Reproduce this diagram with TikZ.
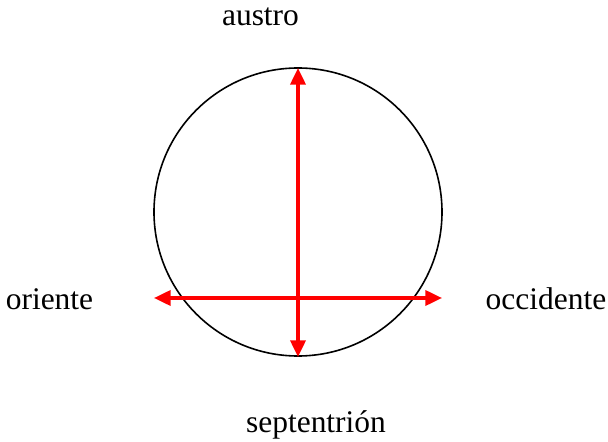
\documentclass[tikz,border=0pt]{standalone}
\usepackage{fontspec}
\setmainfont{Liberation Serif}
\usepackage{tikz}
\usetikzlibrary{arrows.meta}
\definecolor{axisred}{RGB}{255,0,0}
\tikzset{
  rim/.style={draw=black,line width=1.2pt},
  axisflow/.style={{Triangle[length=4.4mm,width=4mm]}-{Triangle[length=4.4mm,width=4mm]},line width=2.4pt,draw=axisred},
  dirlab/.style={font=\fontsize{23.6}{28}\selectfont,inner sep=0pt,anchor=base}
}
\begin{document}
\begin{tikzpicture}[x=0.75pt,y=-0.75pt]
  \useasboundingbox (0,0) rectangle (608,442);
  \node[rim,circle,minimum size=216pt,inner sep=0pt] (globe) at (298,212) {};
  \coordinate (n) at (298,68);
  \coordinate (s) at (298,357);
  \coordinate (w) at (154,298);
  \coordinate (e) at (442,298);
  \draw[axisflow] (n)--(s);
  \draw[axisflow] (w)--(e);
  \node[dirlab] (austro) at (260.5,26) {austro};
  \node[dirlab] (oriente) at (49.5,310) {oriente};
  \node[dirlab] (occidente) at (546,310) {occidente};
  \node[dirlab] (septentrion) at (316,433) {septentrión};
\end{tikzpicture}
\end{document}
